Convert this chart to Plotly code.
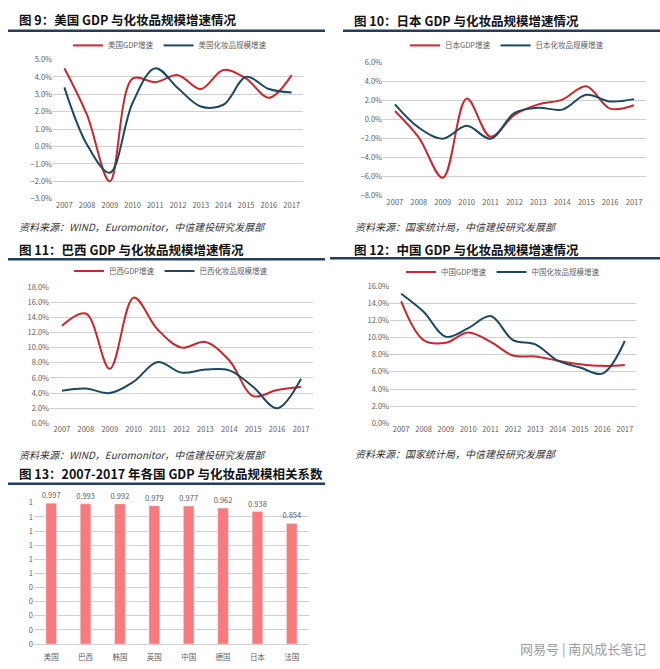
import plotly.graph_objects as go

W, H = 660, 669

years = ["2007", "2008", "2009", "2010", "2011", "2012", "2013", "2014", "2015", "2016", "2017"]

us_gdp = [4.5, 1.8, -2.0, 3.9, 3.7, 4.1, 3.3, 4.4, 3.9, 2.8, 4.1]
us_cosm = [3.4, 0.1, -1.5, 2.5, 4.5, 3.35, 2.3, 2.4, 4.0, 3.3, 3.1]

jp_gdp = [0.9, -1.9, -6.1, 2.2, -1.8, 0.5, 1.6, 2.1, 3.5, 1.15, 1.5]
jp_cosm = [1.6, -0.85, -2.0, -0.65, -2.0, 0.7, 1.25, 1.05, 2.6, 1.9, 2.15]

br_gdp = [12.9, 14.5, 7.2, 16.6, 12.4, 10.0, 10.75, 8.3, 3.6, 4.4, 4.8]
br_cosm = [4.3, 4.6, 4.0, 5.5, 8.1, 6.7, 7.1, 7.0, 4.8, 2.0, 5.9]

cn_gdp = [14.2, 9.7, 9.4, 10.6, 9.5, 7.9, 7.8, 7.3, 6.9, 6.7, 6.8]
cn_cosm = [15.1, 13.0, 10.1, 11.1, 12.5, 9.7, 9.2, 7.3, 6.5, 5.8, 9.6]

countries = ["美国", "巴西", "韩国", "英国", "中国", "德国", "日本", "法国"]
corr = [0.997, 0.993, 0.992, 0.979, 0.977, 0.962, 0.938, 0.854]
corr_tickvals = [0, 0.1, 0.2, 0.3, 0.4, 0.5, 0.6, 0.7, 0.8, 0.9, 1.0]
corr_ticktext = ["0", "0", "0", "0", "0", "1", "1", "1", "1", "1", "1"]

RED = "#C8282E"
BLUE = "#1D4860"
BAR = "#F77B7C"
GRID = "#CFCFCF"
TICK = "#606060"
NAVY = "#223E5E"
FONT = "Noto Sans CJK SC"


def px(x):
    return x / W


def py(y):
    return 1 - y / H


fig = go.Figure()

panels = [
    ("", "legend", us_gdp, us_cosm, "美国GDP增速", "美国化妆品规模增速"),
    ("2", "legend2", jp_gdp, jp_cosm, "日本GDP增速", "日本化妆品规模增速"),
    ("3", "legend3", br_gdp, br_cosm, "巴西GDP增速", "巴西化妆品规模增速"),
    ("4", "legend4", cn_gdp, cn_cosm, "中国GDP增速", "中国化妆品规模增速"),
]

for ax, lg, g, c, gn, cn in panels:
    for vals, name, col in ((g, gn, RED), (c, cn, BLUE)):
        fig.add_trace(go.Scatter(
            x=years, y=vals, name=name, mode="lines",
            line=dict(color=col, width=2, shape="spline", smoothing=1.0),
            xaxis="x" + ax, yaxis="y" + ax, legend=lg,
            hoverinfo="skip",
        ))

fig.add_trace(go.Bar(
    x=countries, y=corr, marker_color=BAR, width=0.31,
    text=[f"{v:.3f}" for v in corr], textposition="outside", constraintext="none",
    textfont=dict(size=7.5, color=TICK, family=FONT),
    cliponaxis=False, xaxis="x5", yaxis="y5", showlegend=False,
    hoverinfo="skip",
))

tickfont = dict(size=7.5, color=TICK, family=FONT)


def xax(dom, anchor, n):
    return dict(domain=dom, anchor=anchor, type="category", range=[-0.5, n - 0.5],
                showgrid=False, zeroline=False, showline=False, ticks="",
                tickfont=tickfont, fixedrange=True)


def yax(dom, anchor, rng, dtick):
    pad = (rng[1] - rng[0]) * 0.002
    return dict(domain=dom, anchor=anchor, range=[rng[0] - pad, rng[1] + pad], dtick=dtick,
                tickformat=".1f", ticksuffix="%", showgrid=True, gridcolor=GRID,
                gridwidth=1, zeroline=False, showline=False, ticks="",
                tickfont=tickfont, fixedrange=True)


layout = dict(
    width=W, height=H, margin=dict(l=0, r=0, t=0, b=0),
    paper_bgcolor="white", plot_bgcolor="white",
    font=dict(family=FONT, color=TICK),
    xaxis=xax([px(53), px(303)], "y", 11),
    yaxis=yax([py(196), py(54)], "x", [-3, 5], 1),
    xaxis2=xax([px(383), px(646)], "y2", 11),
    yaxis2=yax([py(193), py(57)], "x2", [-8, 6], 2),
    xaxis3=xax([px(50), px(313)], "y3", 11),
    yaxis3=yax([py(424), py(285)], "x3", [0, 18], 2),
    xaxis4=xax([px(390), px(636)], "y4", 11),
    yaxis4=yax([py(424), py(284)], "x4", [0, 16], 2),
    xaxis5=dict(domain=[px(34), px(309)], anchor="y5", type="category",
                range=[-0.5, 7.5], showgrid=False, zeroline=False,
                showline=True, linecolor=GRID, ticks="", tickfont=tickfont,
                ticklabelstandoff=6),
    yaxis5=dict(domain=[py(648), py(504)], anchor="x5", range=[-0.002, 1.002],
                tickvals=corr_tickvals, ticktext=corr_ticktext, showgrid=True,
                gridcolor=GRID, zeroline=False, showline=False, ticks="",
                tickfont=tickfont),
)

legcfg = dict(orientation="h", xanchor="center", yanchor="middle",
              font=dict(size=7.5, color=TICK, family=FONT), bgcolor="rgba(0,0,0,0)",
              itemwidth=30, tracegroupgap=0)
layout["legend"] = dict(x=px(170), y=py(40), **legcfg)
layout["legend2"] = dict(x=px(507), y=py(40), **legcfg)
layout["legend3"] = dict(x=px(171), y=py(269), **legcfg)
layout["legend4"] = dict(x=px(503), y=py(270), **legcfg)

fig.update_layout(**layout)

titles = [
    (17, 14, "图 9：美国 GDP 与化妆品规模增速情况"),
    (352, 15, "图 10：日本 GDP 与化妆品规模增速情况"),
    (17, 247, "图 11：巴西 GDP 与化妆品规模增速情况"),
    (352, 247, "图 12：中国 GDP 与化妆品规模增速情况"),
    (17, 475, "图 13：2007-2017 年各国 GDP 与化妆品规模相关系数"),
]
for x, y, t in titles:
    fig.add_annotation(x=px(x), y=py(y), xref="paper", yref="paper", xanchor="left",
                       yanchor="middle", showarrow=False, text="<b>" + t + "</b>",
                       font=dict(size=12.5, color="#111111", family=FONT))

rules = [(8, 325, 25), (343, 660, 25), (8, 325, 257), (330, 660, 256), (8, 325, 485)]
for x0, x1, y in rules:
    fig.add_shape(type="line", xref="paper", yref="paper", x0=px(x0), x1=px(x1),
                  y0=py(y), y1=py(y), line=dict(color=NAVY, width=2.5))

sources = [
    (17, 224, "资料来源：WIND，Euromonitor，中信建投研究发展部"),
    (353, 224, "资料来源：国家统计局，中信建投研究发展部"),
    (17, 455, "资料来源：WIND，Euromonitor，中信建投研究发展部"),
    (353, 454, "资料来源：国家统计局，中信建投研究发展部"),
]
for x, y, t in sources:
    fig.add_annotation(x=px(x), y=py(y), xref="paper", yref="paper", xanchor="left",
                       yanchor="middle", showarrow=False, text="<i>" + t + "</i>",
                       font=dict(size=10, color="#333333", family=FONT))

fig.add_annotation(x=px(648), y=py(652), xref="paper", yref="paper", xanchor="right",
                   yanchor="middle", showarrow=False, text="网易号 | 南风成长笔记",
                   font=dict(size=13, color="#9C9C9C", family=FONT))

fig.write_html("out.html")
